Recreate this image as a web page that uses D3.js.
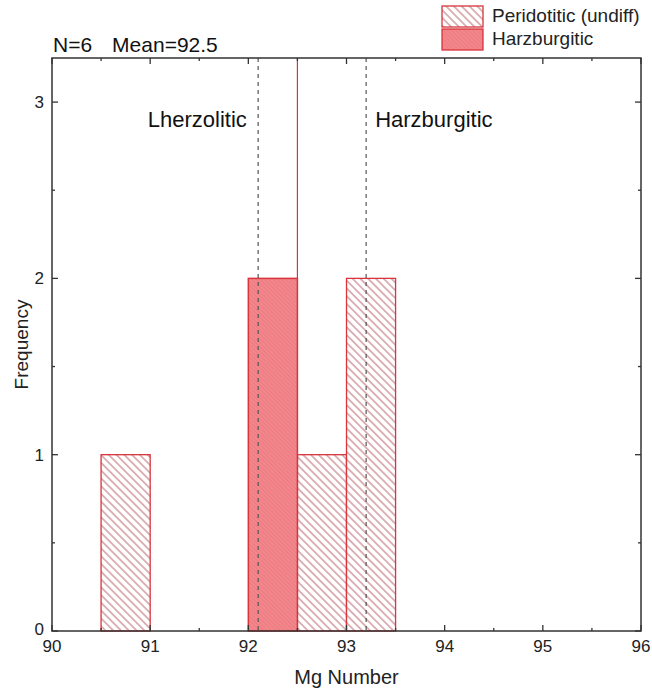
<!DOCTYPE html>
<html>
<head>
<meta charset="utf-8">
<script src="https://cdn.jsdelivr.net/npm/d3@7"></script>
<style>
  body { margin: 0; background: #fff; }
  svg { display: block; font-family: "Liberation Sans", Arial, sans-serif; }
</style>
</head>
<body>
<div id="chart"></div>
<script>
// histogram bins (Mg number) per group
const periBins = [[90.5, 91, 1], [92.5, 93, 1], [93, 93.5, 2]];
const harzBins = [[92, 92.5, 2]];
const boundaries = [92.1, 93.2];   // dashed field limits
const meanValue = 92.5;
const xTicks = [90, 91, 92, 93, 94, 95, 96];
const yTicks = [0, 1, 2, 3];
const legendNames = ["Peridotitic (undiff)", "Harzburgitic"];
const fieldLabels = [["Lherzolitic", 91.48], ["Harzburgitic", 93.89]];

const W = 652, H = 693;
const margin = {left: 52, right: 11, top: 58, bottom: 62};

const red = "#d8343c";

const svg = d3.select("#chart").append("svg")
  .attr("width", W).attr("height", H);

const defs = svg.append("defs");
const hatch = defs.append("pattern")
  .attr("id", "hatch").attr("patternUnits", "userSpaceOnUse")
  .attr("width", 5.5).attr("height", 5.5)
  .attr("patternTransform", "rotate(45)");
hatch.append("rect").attr("width", 5.5).attr("height", 5.5).attr("fill", "#fff");
hatch.append("line").attr("x1", 0).attr("y1", 2.75).attr("x2", 5.5).attr("y2", 2.75)
  .attr("stroke", "#c4787e").attr("stroke-width", 1.1);

const dense = defs.append("pattern")
  .attr("id", "dense").attr("patternUnits", "userSpaceOnUse")
  .attr("width", 3).attr("height", 3)
  .attr("patternTransform", "rotate(45)");
dense.append("rect").attr("width", 3).attr("height", 3).attr("fill", "#f2868b");
dense.append("line").attr("x1", 0).attr("y1", 1.5).attr("x2", 3).attr("y2", 1.5)
  .attr("stroke", "#ea7a80").attr("stroke-width", 0.8);

const x = d3.scaleLinear().domain([90, 96]).range([margin.left, W - margin.right]);
const y = d3.scaleLinear().domain([0, 3.25]).range([H - margin.bottom, margin.top]);

const x0 = x.range()[0], x1 = x.range()[1];
const y0 = y.range()[0], y1 = y.range()[1];

// mean line
svg.append("line")
  .attr("x1", x(meanValue)).attr("x2", x(meanValue))
  .attr("y1", y1).attr("y2", y(2))
  .attr("stroke", red).attr("stroke-width", 1.2);

// bars
svg.append("g").selectAll("rect")
  .data(periBins).join("rect")
  .attr("x", d => x(d[0])).attr("width", d => x(d[1]) - x(d[0]))
  .attr("y", d => y(d[2])).attr("height", d => y(0) - y(d[2]))
  .attr("fill", "url(#hatch)").attr("stroke", red).attr("stroke-width", 1.3);

svg.append("g").selectAll("rect")
  .data(harzBins).join("rect")
  .attr("x", d => x(d[0])).attr("width", d => x(d[1]) - x(d[0]))
  .attr("y", d => y(d[2])).attr("height", d => y(0) - y(d[2]))
  .attr("fill", "url(#dense)").attr("stroke", red).attr("stroke-width", 1.5);

// dashed boundaries
svg.append("g").selectAll("line")
  .data(boundaries).join("line")
  .attr("x1", d => x(d)).attr("x2", d => x(d))
  .attr("y1", y1).attr("y2", y0)
  .attr("stroke", "#555").attr("stroke-width", 1.2)
  .attr("stroke-dasharray", "4,4");

// frame
svg.append("rect")
  .attr("x", x0).attr("y", y1).attr("width", x1 - x0).attr("height", y0 - y1)
  .attr("fill", "none").attr("stroke", "#333").attr("stroke-width", 1.5);

// ticks (inside)
const xMinor = d3.range(90.5, 96, 1);
const yMinor = d3.range(0.5, 3.25, 1);
const tk = svg.append("g").attr("stroke", "#333").attr("stroke-width", 1.3);
xTicks.forEach(v => {
  tk.append("line").attr("x1", x(v)).attr("x2", x(v)).attr("y1", y0).attr("y2", y0 - 6);
  tk.append("line").attr("x1", x(v)).attr("x2", x(v)).attr("y1", y1).attr("y2", y1 + 6);
});
xMinor.forEach(v => {
  tk.append("line").attr("x1", x(v)).attr("x2", x(v)).attr("y1", y0).attr("y2", y0 - 3);
  tk.append("line").attr("x1", x(v)).attr("x2", x(v)).attr("y1", y1).attr("y2", y1 + 3);
});
yTicks.forEach(v => {
  tk.append("line").attr("x1", x0).attr("x2", x0 + 6).attr("y1", y(v)).attr("y2", y(v));
  tk.append("line").attr("x1", x1).attr("x2", x1 - 6).attr("y1", y(v)).attr("y2", y(v));
});
yMinor.forEach(v => {
  tk.append("line").attr("x1", x0).attr("x2", x0 + 3).attr("y1", y(v)).attr("y2", y(v));
  tk.append("line").attr("x1", x1).attr("x2", x1 - 3).attr("y1", y(v)).attr("y2", y(v));
});

// tick labels
svg.append("g").selectAll("text")
  .data(xTicks).join("text")
  .attr("x", d => x(d)).attr("y", y0 + 21)
  .attr("text-anchor", "middle").attr("font-size", 17).attr("fill", "#222")
  .text(d => d);
svg.append("g").selectAll("text")
  .data(yTicks).join("text")
  .attr("x", x0 - 8).attr("y", d => Math.min(y(d) + 6, y0 + 4))
  .attr("text-anchor", "end").attr("font-size", 17).attr("fill", "#222")
  .text(d => d);

// axis titles
svg.append("text")
  .attr("x", (x0 + x1) / 2).attr("y", 684)
  .attr("text-anchor", "middle").attr("font-size", 20).attr("fill", "#222")
  .text("Mg Number");
svg.append("text")
  .attr("transform", `translate(28,${(y0 + y1) / 2}) rotate(-90)`)
  .attr("text-anchor", "middle").attr("font-size", 19).attr("fill", "#222")
  .text("Frequency");

// header stats
const head = svg.append("text")
  .attr("x", x0 + 1).attr("y", 52)
  .attr("font-size", 21).attr("fill", "#111");
head.append("tspan").text("N=6");
head.append("tspan").attr("dx", 20).text("Mean=92.5");

// field labels
svg.append("g").selectAll("text")
  .data(fieldLabels).join("text")
  .attr("x", d => x(d[1])).attr("y", 127)
  .attr("text-anchor", "middle").attr("font-size", 22).attr("fill", "#111")
  .text(d => d[0]);

// legend
const leg = svg.append("g").attr("transform", "translate(442,6)");
const legFills = ["url(#hatch)", "url(#dense)"];
leg.selectAll("rect")
  .data(legendNames).join("rect")
  .attr("x", 0).attr("y", (d, i) => i * 23)
  .attr("width", 41).attr("height", 21)
  .attr("fill", (d, i) => legFills[i])
  .attr("stroke", red).attr("stroke-width", 1.3);
leg.selectAll("text")
  .data(legendNames).join("text")
  .attr("x", 50).attr("y", (d, i) => i * 23 + 16)
  .attr("font-size", 19).attr("fill", "#222")
  .text(d => d);
</script>
</body>
</html>
